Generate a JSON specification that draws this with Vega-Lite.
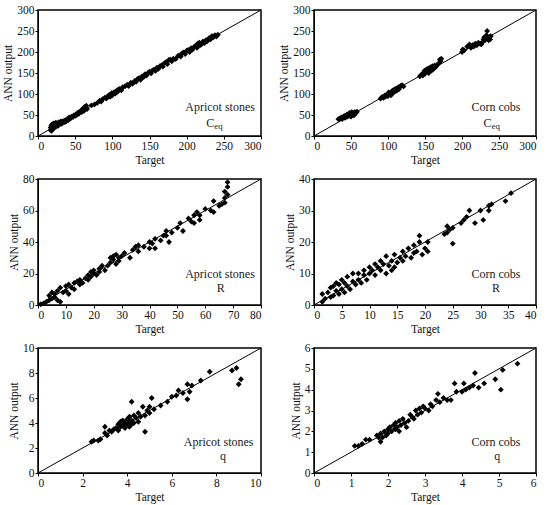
{
  "$schema": "https://vega.github.io/schema/vega-lite/v6.json",
  "background": "white",
  "padding": {"left": 2, "top": 3, "right": 5, "bottom": 5},
  "bounds": "flush",
  "columns": 2,
  "spacing": {"row": 43, "column": 53},
  "config": {
    "view": {"stroke": "black", "strokeWidth": 1.5},
    "axis": {
      "grid": false,
      "domainColor": "black",
      "tickColor": "black",
      "tickSize": 3,
      "labelFont": "Liberation Serif",
      "labelFontSize": 11.5,
      "labelColor": "#111",
      "labelPadding": 1,
      "labelOverlap": false,
      "titleFont": "Liberation Serif",
      "titleFontSize": 11.5,
      "titleFontWeight": "normal",
      "titleColor": "#111",
      "titlePadding": 3
    },
    "point": {"shape": "diamond", "filled": true, "color": "black", "size": 34, "opacity": 1},
    "rule": {"color": "black", "strokeWidth": 1},
    "text": {"font": "Liberation Serif", "color": "#222", "fontSize": 12, "align": "center", "baseline": "middle"}
  },
  "datasets": {
    "apricotCeq": [
      {"target":17,"output":14},{"target":17,"output":20},{"target":18,"output":25},{"target":18,"output":12},{"target":19,"output":18},{"target":19,"output":28},{"target":20,"output":22},{"target":20,"output":16},{"target":21,"output":26},{"target":21,"output":30},{"target":22,"output":20},{"target":22,"output":24},{"target":23,"output":28},{"target":24,"output":22},{"target":24,"output":32},{"target":25,"output":27},{"target":26,"output":30},{"target":27,"output":24},{"target":28,"output":33},{"target":28,"output":29},{"target":30,"output":31},{"target":31,"output":35},{"target":32,"output":29},{"target":33,"output":34},{"target":35,"output":36},{"target":36,"output":33},{"target":37,"output":38},{"target":38,"output":35},{"target":40,"output":41},{"target":41,"output":38},{"target":42,"output":44},{"target":44,"output":42},{"target":45,"output":46},{"target":47,"output":45},{"target":48,"output":49},{"target":50,"output":48},{"target":51,"output":52},{"target":52,"output":50},{"target":54,"output":56},{"target":55,"output":53},{"target":57,"output":58},{"target":58,"output":61},{"target":59,"output":57},{"target":60,"output":63},{"target":61,"output":66},{"target":62,"output":60},{"target":63,"output":70},{"target":64,"output":67},{"target":65,"output":72},{"target":66,"output":64},{"target":72,"output":73},{"target":76,"output":75},{"target":80,"output":79},{"target":83,"output":84},{"target":85,"output":82},{"target":87,"output":88},{"target":90,"output":91},{"target":92,"output":89},{"target":94,"output":95},{"target":96,"output":98},{"target":97,"output":93},{"target":99,"output":102},{"target":100,"output":97},{"target":102,"output":104},{"target":104,"output":101},{"target":105,"output":107},{"target":107,"output":105},{"target":108,"output":111},{"target":110,"output":112},{"target":112,"output":109},{"target":114,"output":116},{"target":117,"output":118},{"target":120,"output":122},{"target":122,"output":119},{"target":125,"output":127},{"target":127,"output":124},{"target":130,"output":131},{"target":132,"output":129},{"target":134,"output":136},{"target":136,"output":138},{"target":138,"output":134},{"target":140,"output":142},{"target":142,"output":140},{"target":144,"output":147},{"target":146,"output":144},{"target":148,"output":150},{"target":150,"output":153},{"target":152,"output":149},{"target":154,"output":156},{"target":156,"output":158},{"target":158,"output":155},{"target":160,"output":163},{"target":162,"output":160},{"target":164,"output":166},{"target":166,"output":168},{"target":168,"output":165},{"target":170,"output":173},{"target":172,"output":176},{"target":174,"output":171},{"target":176,"output":181},{"target":178,"output":182},{"target":180,"output":178},{"target":182,"output":184},{"target":185,"output":183},{"target":188,"output":190},{"target":190,"output":192},{"target":192,"output":189},{"target":194,"output":197},{"target":196,"output":199},{"target":198,"output":195},{"target":200,"output":203},{"target":202,"output":205},{"target":204,"output":200},{"target":206,"output":209},{"target":208,"output":206},{"target":210,"output":212},{"target":212,"output":215},{"target":214,"output":210},{"target":215,"output":220},{"target":217,"output":222},{"target":218,"output":216},{"target":220,"output":218},{"target":222,"output":225},{"target":224,"output":221},{"target":226,"output":228},{"target":228,"output":226},{"target":230,"output":233},{"target":232,"output":230},{"target":234,"output":238},{"target":236,"output":235},{"target":238,"output":240},{"target":240,"output":237},{"target":242,"output":241}
    ],
    "cornCeq": [
      {"target":33,"output":40},{"target":35,"output":42},{"target":37,"output":44},{"target":38,"output":40},{"target":40,"output":45},{"target":41,"output":48},{"target":42,"output":43},{"target":43,"output":47},{"target":44,"output":50},{"target":45,"output":46},{"target":46,"output":52},{"target":47,"output":48},{"target":48,"output":55},{"target":49,"output":50},{"target":50,"output":46},{"target":50,"output":53},{"target":51,"output":57},{"target":52,"output":51},{"target":53,"output":55},{"target":54,"output":49},{"target":55,"output":57},{"target":56,"output":54},{"target":57,"output":56},{"target":58,"output":58},
      {"target":90,"output":89},{"target":92,"output":93},{"target":94,"output":91},{"target":96,"output":97},{"target":97,"output":94},{"target":99,"output":99},{"target":100,"output":95},{"target":101,"output":104},{"target":103,"output":101},{"target":104,"output":97},{"target":105,"output":106},{"target":106,"output":102},{"target":107,"output":109},{"target":108,"output":104},{"target":109,"output":111},{"target":110,"output":107},{"target":111,"output":113},{"target":112,"output":108},{"target":114,"output":116},{"target":115,"output":112},{"target":117,"output":119},{"target":119,"output":121},{"target":121,"output":118},
      {"target":143,"output":142},{"target":145,"output":146},{"target":147,"output":144},{"target":148,"output":150},{"target":149,"output":155},{"target":150,"output":148},{"target":151,"output":157},{"target":152,"output":152},{"target":153,"output":160},{"target":154,"output":155},{"target":155,"output":150},{"target":156,"output":162},{"target":157,"output":158},{"target":158,"output":164},{"target":159,"output":156},{"target":160,"output":166},{"target":162,"output":160},{"target":163,"output":168},{"target":165,"output":165},{"target":167,"output":170},{"target":169,"output":174},{"target":171,"output":178},{"target":172,"output":184},{"target":170,"output":182},
      {"target":200,"output":200},{"target":201,"output":206},{"target":203,"output":204},{"target":207,"output":213},{"target":210,"output":218},{"target":212,"output":210},{"target":214,"output":216},{"target":216,"output":213},{"target":218,"output":220},{"target":220,"output":216},{"target":222,"output":222},{"target":224,"output":220},{"target":226,"output":218},{"target":228,"output":224},{"target":229,"output":230},{"target":230,"output":235},{"target":231,"output":228},{"target":233,"output":240},{"target":234,"output":250},{"target":235,"output":232},{"target":236,"output":228},{"target":237,"output":236},{"target":238,"output":230},{"target":239,"output":238}
    ],
    "apricotR": [
      {"target":1,"output":0.5},{"target":2,"output":1},{"target":3,"output":2},{"target":4,"output":3},{"target":4,"output":6},{"target":5,"output":4},{"target":5,"output":8},{"target":6,"output":5},{"target":6,"output":7},{"target":7,"output":3},{"target":7,"output":9},{"target":8,"output":2},{"target":8,"output":11},{"target":9,"output":8},{"target":10,"output":12},{"target":10,"output":9},{"target":11,"output":7},{"target":11,"output":13},{"target":12,"output":11},{"target":13,"output":14},{"target":13,"output":10},{"target":14,"output":15},{"target":15,"output":13},{"target":15,"output":16},{"target":16,"output":14},{"target":17,"output":17},{"target":18,"output":19},{"target":18,"output":16},{"target":19,"output":21},{"target":19,"output":18},{"target":20,"output":20},{"target":20,"output":22},{"target":21,"output":19},{"target":22,"output":23},{"target":22,"output":21},{"target":23,"output":25},{"target":24,"output":22},{"target":25,"output":25},{"target":26,"output":27},{"target":26,"output":30},{"target":27,"output":29},{"target":27,"output":31},{"target":28,"output":26},{"target":28,"output":32},{"target":29,"output":30},{"target":29,"output":28},{"target":30,"output":31},{"target":31,"output":33},{"target":33,"output":30},{"target":34,"output":35},{"target":35,"output":37},{"target":36,"output":34},{"target":36,"output":38},{"target":38,"output":37},{"target":40,"output":40},{"target":40,"output":36},{"target":41,"output":39},{"target":42,"output":42},{"target":42,"output":36},{"target":44,"output":41},{"target":45,"output":44},{"target":46,"output":47},{"target":46,"output":44},{"target":47,"output":40},{"target":48,"output":46},{"target":50,"output":49},{"target":51,"output":52},{"target":52,"output":47},{"target":54,"output":55},{"target":55,"output":53},{"target":56,"output":57},{"target":56,"output":52},{"target":57,"output":59},{"target":58,"output":54},{"target":58,"output":57},{"target":60,"output":61},{"target":62,"output":60},{"target":63,"output":66},{"target":63,"output":59},{"target":65,"output":63},{"target":66,"output":64},{"target":67,"output":68},{"target":67,"output":72},{"target":67,"output":65},{"target":68,"output":70},{"target":68,"output":75},{"target":68,"output":78}
    ],
    "cornR": [
      {"target":1.5,"output":1},{"target":1.5,"output":3.5},{"target":2,"output":2},{"target":2.5,"output":4},{"target":3,"output":2.5},{"target":3,"output":5.5},{"target":3.5,"output":3},{"target":3.5,"output":6},{"target":4,"output":4.5},{"target":4,"output":7},{"target":4.5,"output":3.5},{"target":4.5,"output":6.5},{"target":5,"output":5},{"target":5,"output":8},{"target":5.5,"output":4},{"target":5.5,"output":7},{"target":6,"output":6},{"target":6,"output":9},{"target":6.5,"output":5},{"target":7,"output":7.5},{"target":7,"output":10},{"target":7.5,"output":6.5},{"target":8,"output":8},{"target":8,"output":10},{"target":8.5,"output":7},{"target":9,"output":9.5},{"target":9,"output":11},{"target":9.5,"output":8},{"target":10,"output":10},{"target":10,"output":12},{"target":10.5,"output":11},{"target":11,"output":13},{"target":11,"output":9.5},{"target":11.5,"output":12},{"target":12,"output":11},{"target":12,"output":14},{"target":12.5,"output":13},{"target":13,"output":15.5},{"target":13,"output":10},{"target":13.5,"output":12.5},{"target":14,"output":14},{"target":14,"output":11},{"target":14.5,"output":16},{"target":14.5,"output":12},{"target":15,"output":13.5},{"target":15.5,"output":15},{"target":16,"output":17},{"target":16,"output":14},{"target":16.5,"output":15.5},{"target":17,"output":18},{"target":17.5,"output":15},{"target":18,"output":16.5},{"target":18,"output":19},{"target":18.5,"output":17},{"target":19,"output":22},{"target":19,"output":20},{"target":19.5,"output":16},{"target":20,"output":18},{"target":20.5,"output":20},{"target":20.5,"output":17},{"target":23.5,"output":22.5},{"target":24,"output":23},{"target":24,"output":25},{"target":24.5,"output":24},{"target":25,"output":19.5},{"target":25,"output":24.5},{"target":26.5,"output":26},{"target":27,"output":27},{"target":27.5,"output":28},{"target":28,"output":30},{"target":29,"output":26},{"target":30,"output":30},{"target":30.5,"output":27},{"target":31.5,"output":30},{"target":31.5,"output":31.5},{"target":32,"output":32},{"target":34.5,"output":33},{"target":35.5,"output":35.5}
    ],
    "apricotQ": [
      {"target":2.4,"output":2.5},{"target":2.5,"output":2.6},{"target":2.7,"output":2.6},{"target":2.8,"output":2.7},{"target":3.0,"output":3.2},{"target":3.0,"output":3.7},{"target":3.1,"output":3.0},{"target":3.2,"output":3.4},{"target":3.3,"output":3.3},{"target":3.4,"output":3.5},{"target":3.5,"output":3.6},{"target":3.6,"output":3.4},{"target":3.6,"output":3.9},{"target":3.7,"output":4.1},{"target":3.7,"output":3.7},{"target":3.8,"output":3.8},{"target":3.8,"output":4.2},{"target":3.9,"output":3.6},{"target":3.9,"output":4.0},{"target":4.0,"output":4.3},{"target":4.0,"output":3.9},{"target":4.1,"output":4.1},{"target":4.1,"output":4.5},{"target":4.1,"output":3.7},{"target":4.2,"output":5.7},{"target":4.2,"output":4.2},{"target":4.2,"output":3.9},{"target":4.3,"output":4.6},{"target":4.3,"output":4.0},{"target":4.4,"output":4.4},{"target":4.5,"output":4.8},{"target":4.5,"output":4.1},{"target":4.6,"output":4.5},{"target":4.7,"output":5.3},{"target":4.8,"output":3.3},{"target":4.8,"output":4.6},{"target":4.9,"output":5.0},{"target":5.0,"output":5.3},{"target":5.0,"output":4.8},{"target":5.1,"output":6.0},{"target":5.2,"output":5.1},{"target":5.5,"output":5.4},{"target":5.8,"output":5.7},{"target":6.0,"output":6.1},{"target":6.2,"output":6.2},{"target":6.3,"output":6.6},{"target":6.5,"output":6.4},{"target":6.7,"output":5.9},{"target":6.7,"output":7.1},{"target":6.8,"output":6.5},{"target":6.9,"output":7.0},{"target":7.3,"output":7.4},{"target":7.7,"output":8.1},{"target":8.7,"output":8.2},{"target":8.9,"output":8.4},{"target":9.0,"output":7.1},{"target":9.1,"output":7.5}
    ],
    "cornQ": [
      {"target":1.1,"output":1.3},{"target":1.2,"output":1.3},{"target":1.3,"output":1.4},{"target":1.4,"output":1.6},{"target":1.5,"output":1.6},{"target":1.7,"output":1.8},{"target":1.75,"output":1.7},{"target":1.8,"output":1.5},{"target":1.8,"output":1.9},{"target":1.85,"output":1.7},{"target":1.9,"output":2.0},{"target":1.95,"output":1.8},{"target":2.0,"output":2.1},{"target":2.0,"output":1.9},{"target":2.05,"output":2.2},{"target":2.1,"output":2.0},{"target":2.15,"output":2.3},{"target":2.2,"output":2.1},{"target":2.2,"output":2.4},{"target":2.25,"output":2.2},{"target":2.3,"output":2.5},{"target":2.3,"output":2.0},{"target":2.35,"output":2.3},{"target":2.4,"output":2.6},{"target":2.45,"output":2.4},{"target":2.5,"output":2.2},{"target":2.55,"output":2.5},{"target":2.6,"output":2.8},{"target":2.65,"output":2.7},{"target":2.7,"output":2.6},{"target":2.75,"output":3.0},{"target":2.8,"output":2.8},{"target":2.85,"output":3.1},{"target":2.9,"output":2.9},{"target":2.95,"output":3.2},{"target":3.0,"output":3.1},{"target":3.1,"output":3.0},{"target":3.15,"output":3.3},{"target":3.2,"output":3.2},{"target":3.3,"output":3.5},{"target":3.35,"output":3.8},{"target":3.4,"output":3.4},{"target":3.5,"output":3.6},{"target":3.6,"output":3.5},{"target":3.7,"output":3.5},{"target":3.8,"output":4.3},{"target":3.85,"output":3.9},{"target":4.0,"output":3.9},{"target":4.05,"output":4.3},{"target":4.1,"output":4.0},{"target":4.2,"output":4.1},{"target":4.3,"output":4.2},{"target":4.35,"output":4.8},{"target":4.45,"output":4.1},{"target":4.6,"output":4.3},{"target":4.9,"output":4.5},{"target":5.05,"output":4.0},{"target":5.1,"output":4.95},{"target":5.5,"output":5.25}
    ]
  },
  "concat": [
    {
      "width": 223, "height": 126,
      "layer": [
        {"data": {"name": "apricotCeq"}, "mark": "point",
         "encoding": {
           "x": {"field": "target", "type": "quantitative", "scale": {"domain": [0, 300], "nice": false}, "axis": {"title": "Target", "values": [0, 50, 100, 150, 200, 250, 300]}},
           "y": {"field": "output", "type": "quantitative", "scale": {"domain": [0, 300], "nice": false}, "axis": {"title": "ANN output", "values": [0, 50, 100, 150, 200, 250, 300]}}}},
        {"data": {"values": [{}]}, "mark": "rule",
         "encoding": {"x": {"datum": 0, "type": "quantitative", "axis": {"title": "Target", "values": [0, 50, 100, 150, 200, 250, 300]}}, "x2": {"datum": 300},
                      "y": {"datum": 0, "type": "quantitative", "axis": {"title": "ANN output", "values": [0, 50, 100, 150, 200, 250, 300]}}, "y2": {"datum": 300}}},
        {"data": {"values": [{}]}, "mark": {"type": "text", "text": "Apricot stones"},
         "encoding": {"x": {"datum": 245, "type": "quantitative", "axis": {"title": "Target", "values": [0, 50, 100, 150, 200, 250, 300]}},
                      "y": {"datum": 70, "type": "quantitative", "axis": {"title": "ANN output", "values": [0, 50, 100, 150, 200, 250, 300]}}}},
        {"data": {"values": [{}]}, "mark": {"type": "text", "align": "right", "text": "C"},
         "encoding": {"x": {"datum": 237, "type": "quantitative", "axis": {"title": "Target", "values": [0, 50, 100, 150, 200, 250, 300]}},
                      "y": {"datum": 32, "type": "quantitative", "axis": {"title": "ANN output", "values": [0, 50, 100, 150, 200, 250, 300]}}}},
        {"data": {"values": [{}]}, "mark": {"type": "text", "fontSize": 9, "align": "left", "dy": 3, "text": "eq"},
         "encoding": {"x": {"datum": 237, "type": "quantitative", "axis": {"title": "Target", "values": [0, 50, 100, 150, 200, 250, 300]}},
                      "y": {"datum": 32, "type": "quantitative", "axis": {"title": "ANN output", "values": [0, 50, 100, 150, 200, 250, 300]}}}}
      ]
    },
    {
      "width": 222, "height": 126,
      "layer": [
        {"data": {"name": "cornCeq"}, "mark": "point",
         "encoding": {
           "x": {"field": "target", "type": "quantitative", "scale": {"domain": [0, 300], "nice": false}, "axis": {"title": "Target", "values": [0, 50, 100, 150, 200, 250, 300]}},
           "y": {"field": "output", "type": "quantitative", "scale": {"domain": [0, 300], "nice": false}, "axis": {"title": "ANN output", "values": [0, 50, 100, 150, 200, 250, 300]}}}},
        {"data": {"values": [{}]}, "mark": "rule",
         "encoding": {"x": {"datum": 0, "type": "quantitative", "axis": {"title": "Target", "values": [0, 50, 100, 150, 200, 250, 300]}}, "x2": {"datum": 300},
                      "y": {"datum": 0, "type": "quantitative", "axis": {"title": "ANN output", "values": [0, 50, 100, 150, 200, 250, 300]}}, "y2": {"datum": 300}}},
        {"data": {"values": [{}]}, "mark": {"type": "text", "text": "Corn cobs"},
         "encoding": {"x": {"datum": 246, "type": "quantitative", "axis": {"title": "Target", "values": [0, 50, 100, 150, 200, 250, 300]}},
                      "y": {"datum": 70, "type": "quantitative", "axis": {"title": "ANN output", "values": [0, 50, 100, 150, 200, 250, 300]}}}},
        {"data": {"values": [{}]}, "mark": {"type": "text", "align": "right", "text": "C"},
         "encoding": {"x": {"datum": 240, "type": "quantitative", "axis": {"title": "Target", "values": [0, 50, 100, 150, 200, 250, 300]}},
                      "y": {"datum": 32, "type": "quantitative", "axis": {"title": "ANN output", "values": [0, 50, 100, 150, 200, 250, 300]}}}},
        {"data": {"values": [{}]}, "mark": {"type": "text", "fontSize": 9, "align": "left", "dy": 3, "text": "eq"},
         "encoding": {"x": {"datum": 240, "type": "quantitative", "axis": {"title": "Target", "values": [0, 50, 100, 150, 200, 250, 300]}},
                      "y": {"datum": 32, "type": "quantitative", "axis": {"title": "ANN output", "values": [0, 50, 100, 150, 200, 250, 300]}}}}
      ]
    },
    {
      "width": 223, "height": 126,
      "layer": [
        {"data": {"name": "apricotR"}, "mark": "point",
         "encoding": {
           "x": {"field": "target", "type": "quantitative", "scale": {"domain": [0, 80], "nice": false}, "axis": {"title": "Target", "values": [0, 10, 20, 30, 40, 50, 60, 70, 80]}},
           "y": {"field": "output", "type": "quantitative", "scale": {"domain": [0, 80], "nice": false}, "axis": {"title": "ANN output", "values": [0, 20, 40, 60, 80]}}}},
        {"data": {"values": [{}]}, "mark": "rule",
         "encoding": {"x": {"datum": 0, "type": "quantitative", "axis": {"title": "Target", "values": [0, 10, 20, 30, 40, 50, 60, 70, 80]}}, "x2": {"datum": 80},
                      "y": {"datum": 0, "type": "quantitative", "axis": {"title": "ANN output", "values": [0, 20, 40, 60, 80]}}, "y2": {"datum": 80}}},
        {"data": {"values": [{}]}, "mark": {"type": "text", "text": "Apricot stones"},
         "encoding": {"x": {"datum": 65.3, "type": "quantitative", "axis": {"title": "Target", "values": [0, 10, 20, 30, 40, 50, 60, 70, 80]}},
                      "y": {"datum": 19.6, "type": "quantitative", "axis": {"title": "ANN output", "values": [0, 20, 40, 60, 80]}}}},
        {"data": {"values": [{}]}, "mark": {"type": "text", "text": "R"},
         "encoding": {"x": {"datum": 65.6, "type": "quantitative", "axis": {"title": "Target", "values": [0, 10, 20, 30, 40, 50, 60, 70, 80]}},
                      "y": {"datum": 10.5, "type": "quantitative", "axis": {"title": "ANN output", "values": [0, 20, 40, 60, 80]}}}}
      ]
    },
    {
      "width": 222, "height": 126,
      "layer": [
        {"data": {"name": "cornR"}, "mark": "point",
         "encoding": {
           "x": {"field": "target", "type": "quantitative", "scale": {"domain": [0, 40], "nice": false}, "axis": {"title": "Target", "values": [0, 5, 10, 15, 20, 25, 30, 35, 40]}},
           "y": {"field": "output", "type": "quantitative", "scale": {"domain": [0, 40], "nice": false}, "axis": {"title": "ANN output", "values": [0, 10, 20, 30, 40]}}}},
        {"data": {"values": [{}]}, "mark": "rule",
         "encoding": {"x": {"datum": 0, "type": "quantitative", "axis": {"title": "Target", "values": [0, 5, 10, 15, 20, 25, 30, 35, 40]}}, "x2": {"datum": 40},
                      "y": {"datum": 0, "type": "quantitative", "axis": {"title": "ANN output", "values": [0, 10, 20, 30, 40]}}, "y2": {"datum": 40}}},
        {"data": {"values": [{}]}, "mark": {"type": "text", "text": "Corn cobs"},
         "encoding": {"x": {"datum": 32.8, "type": "quantitative", "axis": {"title": "Target", "values": [0, 5, 10, 15, 20, 25, 30, 35, 40]}},
                      "y": {"datum": 9.8, "type": "quantitative", "axis": {"title": "ANN output", "values": [0, 10, 20, 30, 40]}}}},
        {"data": {"values": [{}]}, "mark": {"type": "text", "text": "R"},
         "encoding": {"x": {"datum": 32.8, "type": "quantitative", "axis": {"title": "Target", "values": [0, 5, 10, 15, 20, 25, 30, 35, 40]}},
                      "y": {"datum": 5.3, "type": "quantitative", "axis": {"title": "ANN output", "values": [0, 10, 20, 30, 40]}}}}
      ]
    },
    {
      "width": 223, "height": 125,
      "layer": [
        {"data": {"name": "apricotQ"}, "mark": "point",
         "encoding": {
           "x": {"field": "target", "type": "quantitative", "scale": {"domain": [0, 10], "nice": false}, "axis": {"title": "Target", "values": [0, 2, 4, 6, 8, 10]}},
           "y": {"field": "output", "type": "quantitative", "scale": {"domain": [0, 10], "nice": false}, "axis": {"title": "ANN output", "values": [0, 2, 4, 6, 8, 10]}}}},
        {"data": {"values": [{}]}, "mark": "rule",
         "encoding": {"x": {"datum": 0, "type": "quantitative", "axis": {"title": "Target", "values": [0, 2, 4, 6, 8, 10]}}, "x2": {"datum": 10},
                      "y": {"datum": 0, "type": "quantitative", "axis": {"title": "ANN output", "values": [0, 2, 4, 6, 8, 10]}}, "y2": {"datum": 10}}},
        {"data": {"values": [{}]}, "mark": {"type": "text", "text": "Apricot stones"},
         "encoding": {"x": {"datum": 8.1, "type": "quantitative", "axis": {"title": "Target", "values": [0, 2, 4, 6, 8, 10]}},
                      "y": {"datum": 2.45, "type": "quantitative", "axis": {"title": "ANN output", "values": [0, 2, 4, 6, 8, 10]}}}},
        {"data": {"values": [{}]}, "mark": {"type": "text", "text": "q"},
         "encoding": {"x": {"datum": 8.3, "type": "quantitative", "axis": {"title": "Target", "values": [0, 2, 4, 6, 8, 10]}},
                      "y": {"datum": 1.35, "type": "quantitative", "axis": {"title": "ANN output", "values": [0, 2, 4, 6, 8, 10]}}}}
      ]
    },
    {
      "width": 222, "height": 125,
      "layer": [
        {"data": {"name": "cornQ"}, "mark": "point",
         "encoding": {
           "x": {"field": "target", "type": "quantitative", "scale": {"domain": [0, 6], "nice": false}, "axis": {"title": "Target", "values": [0, 1, 2, 3, 4, 5, 6]}},
           "y": {"field": "output", "type": "quantitative", "scale": {"domain": [0, 6], "nice": false}, "axis": {"title": "ANN output", "values": [0, 1, 2, 3, 4, 5, 6]}}}},
        {"data": {"values": [{}]}, "mark": "rule",
         "encoding": {"x": {"datum": 0, "type": "quantitative", "axis": {"title": "Target", "values": [0, 1, 2, 3, 4, 5, 6]}}, "x2": {"datum": 6},
                      "y": {"datum": 0, "type": "quantitative", "axis": {"title": "ANN output", "values": [0, 1, 2, 3, 4, 5, 6]}}, "y2": {"datum": 6}}},
        {"data": {"values": [{}]}, "mark": {"type": "text", "text": "Corn cobs"},
         "encoding": {"x": {"datum": 4.92, "type": "quantitative", "axis": {"title": "Target", "values": [0, 1, 2, 3, 4, 5, 6]}},
                      "y": {"datum": 1.47, "type": "quantitative", "axis": {"title": "ANN output", "values": [0, 1, 2, 3, 4, 5, 6]}}}},
        {"data": {"values": [{}]}, "mark": {"type": "text", "text": "q"},
         "encoding": {"x": {"datum": 4.95, "type": "quantitative", "axis": {"title": "Target", "values": [0, 1, 2, 3, 4, 5, 6]}},
                      "y": {"datum": 0.8, "type": "quantitative", "axis": {"title": "ANN output", "values": [0, 1, 2, 3, 4, 5, 6]}}}}
      ]
    }
  ]
}
